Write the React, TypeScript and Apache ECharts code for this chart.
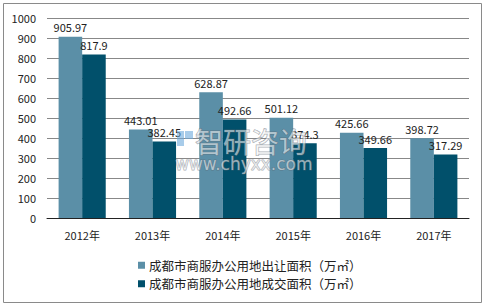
import React, { useEffect, useRef } from "react";
import * as echarts from "echarts";

const categories = ["2012年", "2013年", "2014年", "2015年", "2016年", "2017年"];
const seriesNames = [
  "成都市商服办公用地出让面积（万㎡）",
  "成都市商服办公用地成交面积（万㎡）",
];
const transferArea = [905.97, 443.01, 628.87, 501.12, 425.66, 398.72];
const dealArea = [817.9, 382.45, 492.66, 374.3, 349.66, 317.29];
const colors = ["#5B8FA7", "#01506B"];

const FONT = "'Noto Sans CJK SC', 'Noto Sans', sans-serif";

export default function App() {
  const ref = useRef<HTMLDivElement>(null);
  useEffect(() => {
    if (!ref.current) return;
    const chart = echarts.init(ref.current, undefined, { renderer: "svg" });
    const label = {
      show: true,
      position: "top" as const,
      distance: 4,
      color: "#222",
      fontSize: 11,
      fontFamily: FONT,
    };
    const wmStyle = {
      fill: "rgba(255,255,255,0.55)",
      stroke: "rgba(90,100,110,0.55)",
      lineWidth: 1,
    };
    chart.setOption({
      animation: false,
      backgroundColor: "#fff",
      textStyle: { fontFamily: FONT },
      grid: { left: 47, right: 15, top: 18, bottom: 87, containLabel: false },
      legend: {
        orient: "vertical",
        left: 133,
        top: 254,
        itemWidth: 7,
        itemHeight: 7,
        itemGap: 6,
        icon: "rect",
        textStyle: { fontSize: 12.5, color: "#222", fontFamily: FONT, padding: [0, 0, 0, -1] },
        data: seriesNames,
      },
      xAxis: {
        type: "category",
        data: categories,
        axisLine: { lineStyle: { color: "#222", width: 1 } },
        axisTick: { show: false },
        axisLabel: { color: "#222", fontSize: 11, margin: 11, fontFamily: FONT },
      },
      yAxis: {
        type: "value",
        min: 0,
        max: 1000,
        interval: 100,
        axisLine: { show: false },
        axisTick: { show: false },
        splitLine: { lineStyle: { color: "#888", width: 1 } },
        axisLabel: {
          color: "#222",
          fontSize: 11,
          margin: 11,
          fontFamily: FONT,
          formatter: (v: number) => String(v),
        },
      },
      graphic: [
        {
          type: "rect",
          shape: { x: 3.5, y: 3.5, width: 478, height: 299 },
          style: { fill: "none", stroke: "#8a8a8a", lineWidth: 1 },
          silent: true,
        },
        {
          type: "rect",
          shape: { x: 177, y: 131, width: 7, height: 15 },
          style: { fill: "rgba(110,170,220,0.6)" },
          silent: true,
          z: 100,
        },
        {
          type: "rect",
          shape: { x: 185, y: 131, width: 8, height: 8 },
          style: { fill: "rgba(110,170,220,0.6)" },
          silent: true,
          z: 100,
        },
        {
          type: "text",
          x: 195,
          y: 127,
          style: {
            text: "智研咨询",
            fontSize: 28,
            fontFamily: FONT,
            ...wmStyle,
          },
          silent: true,
          z: 100,
        },
        {
          type: "text",
          x: 175,
          y: 155,
          style: {
            text: "www.chyxx.com",
            fontSize: 17,
            fontFamily: "'DejaVu Sans', sans-serif",
            ...wmStyle,
          },
          silent: true,
          z: 100,
        },
      ],
      series: [
        {
          name: seriesNames[0],
          type: "bar",
          data: transferArea,
          barGap: "0%",
          barCategoryGap: "33%",
          itemStyle: { color: colors[0] },
          label,
        },
        {
          name: seriesNames[1],
          type: "bar",
          data: dealArea,
          barGap: "0%",
          barCategoryGap: "33%",
          itemStyle: { color: colors[1] },
          label,
        },
      ],
    });
    return () => chart.dispose();
  }, []);
  return (
    <div
      ref={ref}
      style={{ position: "fixed", left: 0, top: 0, width: 484, height: 305 }}
    />
  );
}
